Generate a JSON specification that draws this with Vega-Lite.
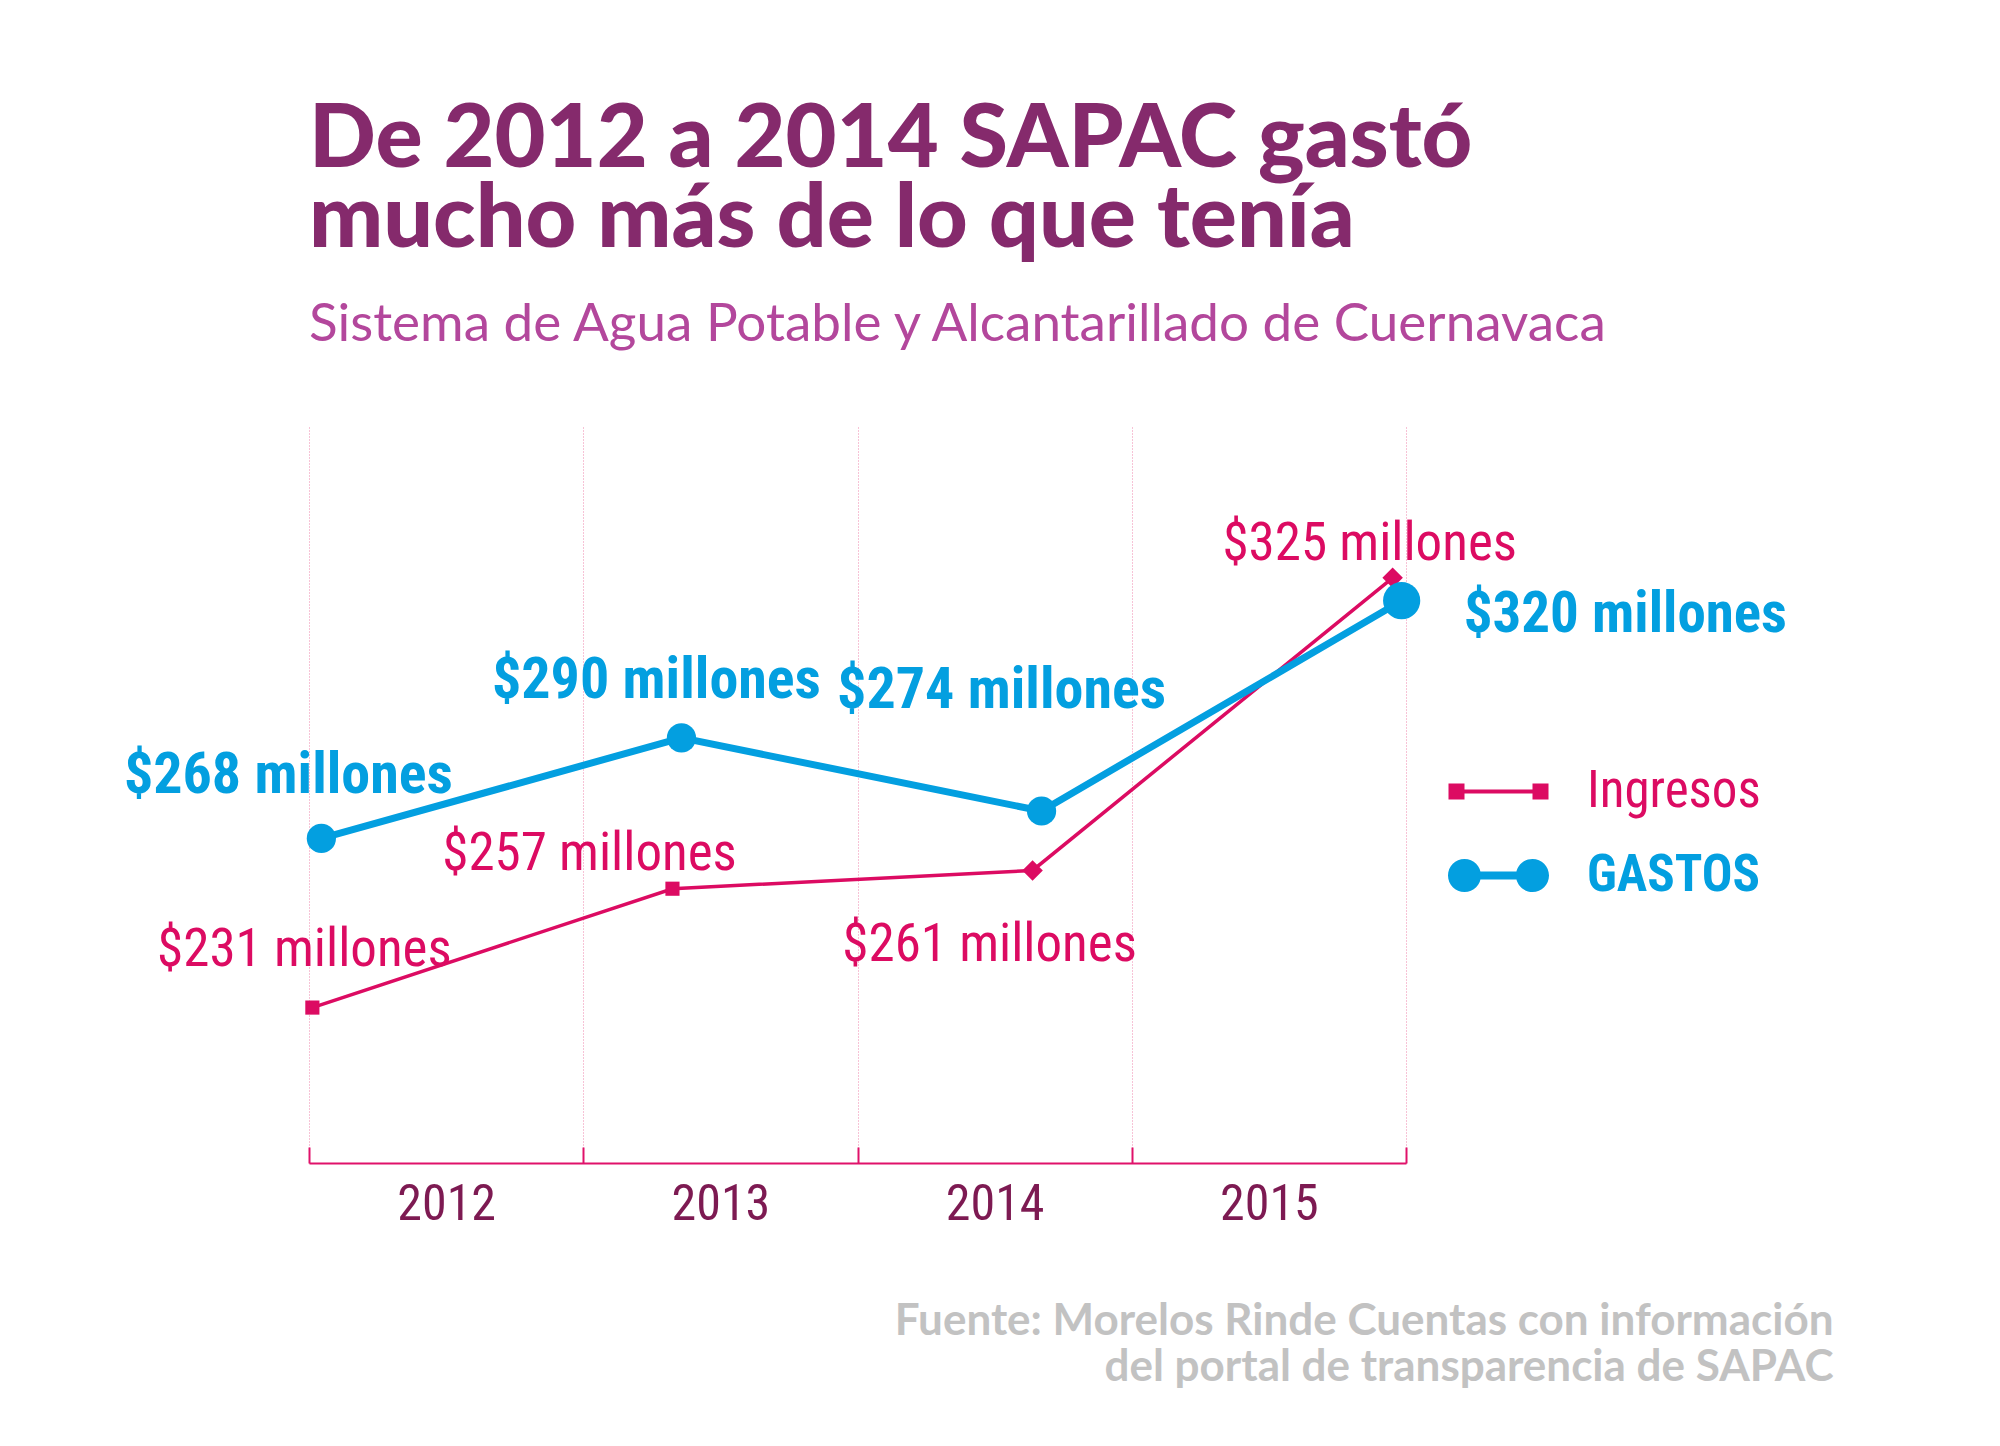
{
  "$schema": "https://vega.github.io/schema/vega-lite/v6.json",
  "width": 1097,
  "height": 736,
  "autosize": "none",
  "padding": {"left": 309, "top": 427, "right": 594, "bottom": 283},
  "background": "white",
  "config": {"view": {"stroke": null}},
  "title": {
    "text": ["De 2012 a 2014 SAPAC gastó", "mucho más de lo que tenía"],
    "subtitle": "Sistema de Agua Potable y Alcantarillado de Cuernavaca",
    "anchor": "start",
    "frame": "group",
    "orient": "top",
    "offset": 75,
    "font": "Lato",
    "fontSize": 88,
    "fontWeight": 900,
    "lineHeight": 80,
    "color": "#852a6c",
    "subtitleFont": "Lato",
    "subtitleFontSize": 53,
    "subtitleFontWeight": "normal",
    "subtitleColor": "#b3479c",
    "subtitlePadding": 34
  },
  "resolve": {"scale": {"x": "independent"}},
  "layer": [
    {
      "data": {"values": [{"year": "2012"}, {"year": "2013"}, {"year": "2014"}, {"year": "2015"}]},
      "mark": {"type": "rule", "opacity": 0},
      "encoding": {
        "x": {
          "field": "year",
          "type": "ordinal",
          "scale": {"type": "band", "paddingInner": 0, "paddingOuter": 0},
          "axis": {
            "orient": "bottom",
            "domain": true,
            "domainColor": "#e0126a",
            "domainWidth": 2,
            "ticks": true,
            "tickBand": "extent",
            "tickColor": "#e0126a",
            "tickWidth": 2,
            "tickSize": -16,
            "grid": true,
            "gridColor": "#ee86ad",
            "gridDash": [1, 2],
            "gridWidth": 1,
            "labelAngle": 0,
            "labelFont": "Roboto Condensed, Liberation Sans Narrow, DejaVu Sans Condensed, sans-serif",
            "labelFontSize": 50,
            "labelColor": "#7d1a52",
            "labelPadding": 32,
            "title": ["Fuente: Morelos Rinde Cuentas con información", "del portal de transparencia de SAPAC"],
            "titleFont": "Lato",
            "titleFontSize": 44,
            "titleFontWeight": "bold",
            "titleColor": "#c2c2c2",
            "titleAlign": "right",
            "titleAnchor": "end",
            "titleBaseline": "alphabetic",
            "titleLineHeight": 46,
            "titleX": 1524,
            "titleY": 171
          }
        }
      }
    },
    {
      "data": {
        "values": [
          {"year": "2012", "series": "GASTOS", "value": 268, "label": "$268 millones"},
          {"year": "2013", "series": "GASTOS", "value": 290, "label": "$290 millones"},
          {"year": "2014", "series": "GASTOS", "value": 274, "label": "$274 millones"},
          {"year": "2015", "series": "GASTOS", "value": 320, "label": "$320 millones"},
          {"year": "2012", "series": "Ingresos", "value": 231, "label": "$231 millones"},
          {"year": "2013", "series": "Ingresos", "value": 257, "label": "$257 millones"},
          {"year": "2014", "series": "Ingresos", "value": 261, "label": "$261 millones"},
          {"year": "2015", "series": "Ingresos", "value": 325, "label": "$325 millones"}
        ]
      },
      "encoding": {
        "x": {"field": "year", "type": "ordinal", "scale": {"type": "point", "padding": 0.0232, "align": 0.74}, "axis": null},
        "y": {"field": "value", "type": "quantitative", "scale": {"domain": [197, 358], "zero": false, "nice": false}, "axis": null}
      },
      "layer": [
        {
          "transform": [{"filter": "datum.series === 'Ingresos'"}],
          "mark": {"type": "line", "strokeWidth": 3.5, "xOffset": -9},
          "encoding": {
            "color": {
              "field": "series",
              "type": "nominal",
              "scale": {"domain": ["Ingresos", "GASTOS"], "range": ["#dc0b62", "#039fe0"]},
              "legend": {
                "orient": "none",
                "legendX": 1164,
                "legendY": 339,
                "title": null,
                "padding": 0,
                "symbolSize": 2500,
                "symbolStrokeWidth": 0,
                "symbolOpacity": 1,
                "labelOffset": 63,
                "labelFont": "Roboto Condensed, Liberation Sans Narrow, DejaVu Sans Condensed, sans-serif",
                "labelFontSize": 51,
                "labelLimit": 400,
                "rowPadding": 32,
                "encode": {
                  "symbols": {
                    "update": {
                      "shape": {"signal": "datum.value === 'GASTOS' ? 'M-1.36,-0.16H1.36V0.16H-1.36Z M-2.02,0A0.66,0.66 0 1,1 -0.7,0A0.66,0.66 0 1,1 -2.02,0Z M0.7,0A0.66,0.66 0 1,1 2.02,0A0.66,0.66 0 1,1 0.7,0Z' : 'M-2,-0.32H-1.36V-0.08H1.36V-0.32H2V0.32H1.36V0.08H-1.36V0.32H-2Z'"},
                      "fill": {"signal": "datum.value === 'GASTOS' ? '#039fe0' : '#dc0b62'"},
                      "stroke": {"value": "transparent"},
                      "strokeWidth": {"value": 0},
                      "opacity": {"value": 1}
                    }
                  },
                  "labels": {
                    "update": {
                      "fill": {"signal": "datum.value === 'GASTOS' ? '#039fe0' : '#dc0b62'"},
                      "fontWeight": {"signal": "datum.value === 'GASTOS' ? 'bold' : 'normal'"}
                    }
                  }
                }
              }
            }
          }
        },
        {
          "transform": [{"filter": "datum.series === 'GASTOS'"}],
          "mark": {"type": "line", "strokeWidth": 7},
          "encoding": {
            "color": {"field": "series", "type": "nominal"}
          }
        },
        {
          "transform": [{"filter": "datum.series === 'Ingresos' && (datum.year === '2012' || datum.year === '2013')"}],
          "mark": {"type": "point", "shape": "square", "filled": true, "size": 200, "opacity": 1, "color": "#dc0b62", "xOffset": -9}
        },
        {
          "transform": [{"filter": "datum.series === 'Ingresos' && (datum.year === '2014' || datum.year === '2015')"}],
          "mark": {"type": "point", "shape": "diamond", "filled": true, "size": 420, "opacity": 1, "color": "#dc0b62", "xOffset": -9}
        },
        {
          "transform": [{"filter": "datum.series === 'GASTOS' && datum.year !== '2015'"}],
          "mark": {"type": "circle", "size": 855, "opacity": 1, "color": "#039fe0"}
        },
        {
          "transform": [{"filter": "datum.series === 'GASTOS' && datum.year === '2015'"}],
          "mark": {"type": "circle", "size": 1385, "opacity": 1, "color": "#039fe0"}
        },
        {
          "transform": [{"filter": "datum.series === 'GASTOS' && datum.year === '2012'"}],
          "mark": {"type": "text", "align": "center", "baseline": "alphabetic", "dx": -33, "dy": -45, "font": "Roboto Condensed, Liberation Sans Narrow, DejaVu Sans Condensed, sans-serif", "fontSize": 58, "fontWeight": "bold", "color": "#039fe0"},
          "encoding": {"text": {"field": "label"}}
        },
        {
          "transform": [{"filter": "datum.series === 'GASTOS' && datum.year === '2013'"}],
          "mark": {"type": "text", "align": "center", "baseline": "alphabetic", "dx": -25, "dy": -40, "font": "Roboto Condensed, Liberation Sans Narrow, DejaVu Sans Condensed, sans-serif", "fontSize": 58, "fontWeight": "bold", "color": "#039fe0"},
          "encoding": {"text": {"field": "label"}}
        },
        {
          "transform": [{"filter": "datum.series === 'GASTOS' && datum.year === '2014'"}],
          "mark": {"type": "text", "align": "center", "baseline": "alphabetic", "dx": -40, "dy": -103, "font": "Roboto Condensed, Liberation Sans Narrow, DejaVu Sans Condensed, sans-serif", "fontSize": 58, "fontWeight": "bold", "color": "#039fe0"},
          "encoding": {"text": {"field": "label"}}
        },
        {
          "transform": [{"filter": "datum.series === 'GASTOS' && datum.year === '2015'"}],
          "mark": {"type": "text", "align": "left", "baseline": "alphabetic", "dx": 62, "dy": 31, "font": "Roboto Condensed, Liberation Sans Narrow, DejaVu Sans Condensed, sans-serif", "fontSize": 57, "fontWeight": "bold", "color": "#039fe0"},
          "encoding": {"text": {"field": "label"}}
        },
        {
          "transform": [{"filter": "datum.series === 'Ingresos' && datum.year === '2012'"}],
          "mark": {"type": "text", "align": "center", "baseline": "alphabetic", "dx": -17, "dy": -42, "font": "Roboto Condensed, Liberation Sans Narrow, DejaVu Sans Condensed, sans-serif", "fontSize": 53, "fontWeight": "normal", "color": "#dc0b62"},
          "encoding": {"text": {"field": "label"}}
        },
        {
          "transform": [{"filter": "datum.series === 'Ingresos' && datum.year === '2013'"}],
          "mark": {"type": "text", "align": "center", "baseline": "alphabetic", "dx": -92, "dy": -19, "font": "Roboto Condensed, Liberation Sans Narrow, DejaVu Sans Condensed, sans-serif", "fontSize": 53, "fontWeight": "normal", "color": "#dc0b62"},
          "encoding": {"text": {"field": "label"}}
        },
        {
          "transform": [{"filter": "datum.series === 'Ingresos' && datum.year === '2014'"}],
          "mark": {"type": "text", "align": "center", "baseline": "alphabetic", "dx": -52, "dy": 91, "font": "Roboto Condensed, Liberation Sans Narrow, DejaVu Sans Condensed, sans-serif", "fontSize": 53, "fontWeight": "normal", "color": "#dc0b62"},
          "encoding": {"text": {"field": "label"}}
        },
        {
          "transform": [{"filter": "datum.series === 'Ingresos' && datum.year === '2015'"}],
          "mark": {"type": "text", "align": "center", "baseline": "alphabetic", "dx": -32, "dy": -18, "font": "Roboto Condensed, Liberation Sans Narrow, DejaVu Sans Condensed, sans-serif", "fontSize": 53, "fontWeight": "normal", "color": "#dc0b62"},
          "encoding": {"text": {"field": "label"}}
        }
      ]
    }
  ]
}
